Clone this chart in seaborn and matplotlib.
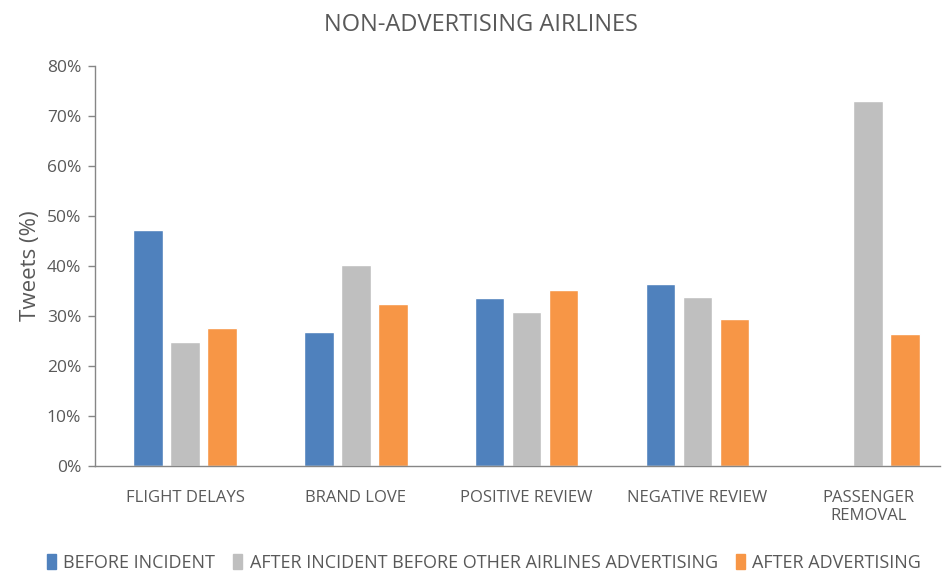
import matplotlib
matplotlib.use("Agg")
import matplotlib.pyplot as plt
import matplotlib.patches as mpatches
from matplotlib.ticker import PercentFormatter
import seaborn as sns
import pandas as pd

categories = ["FLIGHT DELAYS", "BRAND LOVE", "POSITIVE REVIEW", "NEGATIVE REVIEW", "PASSENGER\nREMOVAL"]
series_names = ["BEFORE INCIDENT",
                "AFTER INCIDENT BEFORE OTHER AIRLINES ADVERTISING",
                "AFTER ADVERTISING"]
before_incident = [47.2, 26.9, 33.7, 36.5, 0.0]
after_incident = [24.9, 40.2, 30.9, 33.9, 73.0]
after_advertising = [27.7, 32.5, 35.3, 29.4, 26.5]
colors = ["#4F81BD", "#BFBFBF", "#F79646"]

rows = []
for name, vals in zip(series_names, [before_incident, after_incident, after_advertising]):
    for cat, v in zip(categories, vals):
        rows.append({"category": cat, "series": name, "value": v / 100})
df = pd.DataFrame(rows)

sns.set_theme(style="white")
plt.rcParams["font.family"] = ["Open Sans", "DejaVu Sans"]

fig = plt.figure(figsize=(9.44, 5.72), dpi=100)
ax = fig.add_axes([95 / 944, (572 - 466) / 572, 845 / 944, 400 / 572])

sns.barplot(data=df, x="category", y="value", hue="series", order=categories,
            hue_order=series_names, palette=colors, width=0.65, gap=0.2,
            saturation=1, ax=ax, legend=False)

ax.set_xlim(-0.527, 4.42)
ax.set_ylim(0, 0.8)
ax.yaxis.set_major_formatter(PercentFormatter(1.0, decimals=0))
ax.set_yticks([i / 10 for i in range(9)])

text_color = "#595959"
spine_color = "#868686"
for side in ["top", "right"]:
    ax.spines[side].set_visible(False)
for side in ["left", "bottom"]:
    ax.spines[side].set_color(spine_color)
    ax.spines[side].set_linewidth(1.0)

ax.tick_params(axis="y", which="major", left=True, length=5, width=1.0,
               color=spine_color, labelsize=12.5, labelcolor=text_color, pad=5)
ax.tick_params(axis="x", bottom=False, labelsize=12, labelcolor=text_color, pad=11)
ax.set_xlabel("")
ax.set_ylabel("Tweets (%)", fontsize=16, color=text_color, labelpad=4)

fig.text(481 / 944, 1 - 25 / 572, "NON-ADVERTISING AIRLINES", ha="center", va="center",
         fontsize=17, color=text_color)

handles = [mpatches.Patch(color=c, label=n) for c, n in zip(colors, series_names)]
fig.legend(handles=handles, loc="center", bbox_to_anchor=(484 / 944, 1 - 563 / 572),
           ncol=3, frameon=False, fontsize=13, labelcolor=text_color,
           handlelength=0.5, handleheight=0.9, handletextpad=0.4, columnspacing=1.0)

fig.savefig("out.png", dpi=100)
